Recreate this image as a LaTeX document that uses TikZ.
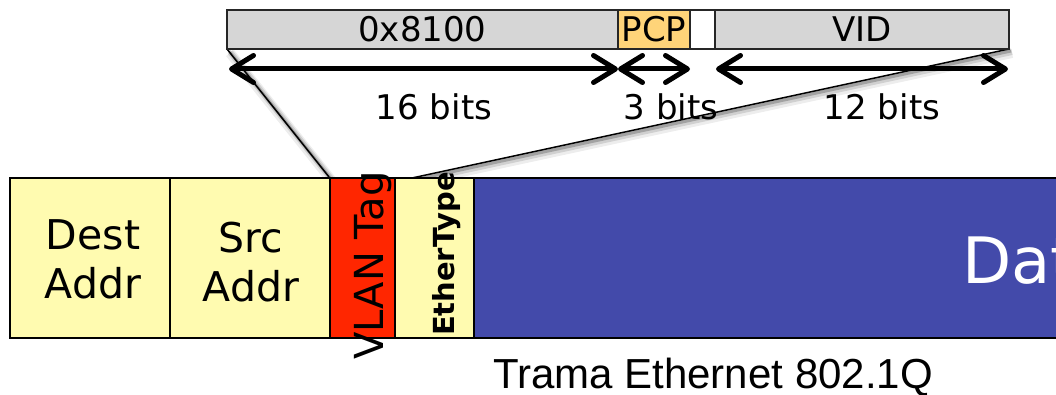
\documentclass[tikz,border=0pt]{standalone}
\usepackage{fontspec}
\setmainfont{DejaVu Sans}
\newfontfamily\arialf{Liberation Sans}
\usetikzlibrary{arrows.meta,calc}
\definecolor{barGray}{HTML}{D6D6D6}
\definecolor{pcpOrange}{HTML}{FFD479}
\definecolor{hdrYellow}{HTML}{FFFBB0}
\definecolor{tagRed}{HTML}{FF2600}
\definecolor{dataBlue}{HTML}{434AAA}
\tikzset{
  barfield/.style={draw=black!85, line width=1.5pt, minimum height=39pt, inner sep=0pt, font=\fontsize{34}{40}\selectfont},
  framefield/.style={draw=black, line width=1.8pt, minimum height=160pt, inner sep=0pt},
  dimarrow/.style={line width=5pt, {Straight Barb[length=22pt,width=27pt,round]}-{Straight Barb[length=22pt,width=27pt,round]}},
  bitlabel/.style={anchor=base, inner sep=0pt, font=\fontsize{34}{40}\selectfont},
  shadowline/.style={line width=1.5pt, black,
    preaction={draw, line width=10pt, opacity=0.07, transform canvas={xshift=3pt,yshift=-4pt}},
    preaction={draw, line width=6pt, opacity=0.12, transform canvas={xshift=3pt,yshift=-3pt}},
    preaction={draw, line width=3pt, opacity=0.22, transform canvas={xshift=2pt,yshift=-2pt}}},
}
\begin{document}
\begin{tikzpicture}[x=1pt,y=-1pt]
\useasboundingbox (0,0) rectangle (1056,395);
\clip (0,0) rectangle (1056,395);
% projection lines (behind everything)
\node[framefield, fill=tagRed, minimum width=65pt, draw=none] (vlanpos) at (362.5,258) {};
\coordinate (tr) at (412,178);
\coordinate (bl) at (227,49);
\coordinate (br) at (1009,49);
\draw[shadowline] (bl) -- (vlanpos.north west);
\draw[shadowline] (br) -- (tr);
% top bar
\node[barfield, fill=barGray, minimum width=391pt] (tpid) at (422.5,29.5) {0x8100};
\node[barfield, fill=pcpOrange, minimum width=72pt] (pcp) at (654,29.5) {PCP};
\node[barfield, fill=white, minimum width=25pt] (cfi) at (702.5,29.5) {};
\node[barfield, fill=barGray, minimum width=294pt] (vid) at (862,29.5) {VID};
% dimension arrows
\coordinate (a1) at (229,69);
\coordinate (a2) at (618,69);
\coordinate (a3) at (690,69);
\coordinate (a4) at (716,69);
\coordinate (a5) at (1008,69);
\draw[dimarrow] (a1) -- (a2);
\draw[dimarrow] (a2) -- (a3);
\draw[dimarrow] (a4) -- (a5);
\node[bitlabel] (l16) at (434,120) {16 bits};
\node[bitlabel] (l3) at (671,120) {3 bits};
\node[bitlabel] (l12) at (882,120) {12 bits};
% frame
\node[framefield, fill=hdrYellow, minimum width=160pt] (dest) at (90,258) {};
\node[framefield, fill=hdrYellow, minimum width=160pt] (src) at (250,258) {};
\node[framefield, fill=tagRed, minimum width=65pt] (vlan) at (362.5,258) {};
\node[framefield, fill=hdrYellow, minimum width=79pt] (eth) at (434.5,258) {};
\node[framefield, fill=dataBlue, minimum width=620pt] (data) at (784,258) {};
\node[align=center, inner sep=0pt, font=\fontsize{41}{49}\selectfont] (desttxt) at (93,259) {Dest\\Addr};
\node[align=center, inner sep=0pt, font=\fontsize{41}{49}\selectfont] (srctxt) at (251,262) {Src\\Addr};
\node[rotate=90, anchor=base, inner sep=0pt, font=\fontsize{40}{49}\selectfont] (vlantxt) at (383,265.5) {VLAN Tag};
\node[rotate=90, anchor=base, inner sep=0pt, font=\fontsize{29}{33}\selectfont\bfseries] (ethtxt) at (454,254) {EtherType};
\node[anchor=base west, inner sep=0pt, text=white, font=\fontsize{64}{70}\selectfont] (datatxt) at (962,283) {Data};
\node[anchor=base, inner sep=0pt, font=\arialf\fontsize{42}{48}\selectfont] (caption) at (713,388) {Trama Ethernet 802.1Q};
\end{tikzpicture}
\end{document}
